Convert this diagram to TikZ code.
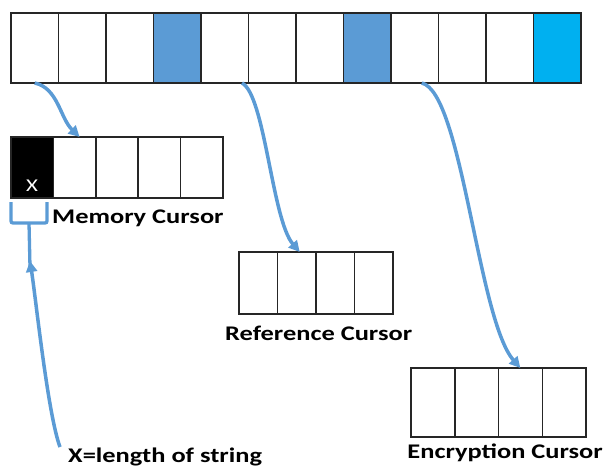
\documentclass[tikz,border=0pt]{standalone}
\usepackage{fontspec}
\usetikzlibrary{arrows.meta,calc}
\newfontfamily\labfont[FakeStretch=1.27]{Carlito}
\definecolor{linkblue}{HTML}{5B9BD5}
\definecolor{markblue}{HTML}{5B9BD5}
\definecolor{endblue}{HTML}{00B0F0}
\definecolor{edge}{HTML}{262626}
\begin{document}
\begin{tikzpicture}[x=1pt,y=-1pt,
  cell/.style={draw=edge,line width=1.5pt,inner sep=0pt,outer sep=0pt,anchor=north west},
  link/.style={draw=linkblue,line width=3.5pt,-{Triangle[length=11pt,width=11pt]}},
  bracket/.style={draw=linkblue,line width=3.3pt,rounded corners=2pt},
  caption/.style={font=\labfont\bfseries\fontsize{20.8}{24}\selectfont,inner sep=0pt,anchor=base west}]
\useasboundingbox (0,0) rectangle (608,466);

% main buffer
\foreach \i/\c in {1/white,2/white,3/white,4/markblue,5/white,6/white,7/white,8/markblue,9/white,10/white,11/white,12/endblue}
  \node[cell,fill=\c,minimum width=47.5pt,minimum height=70pt] (t\i) at ({11+(\i-1)*47.5},13) {};

% memory cursor
\foreach \i/\c in {1/black,2/white,3/white,4/white,5/white}
  \node[cell,fill=\c,minimum width=42.4pt,minimum height=61pt] (m\i) at ({11+(\i-1)*42.4},137) {};
\node[font=\labfont\fontsize{18}{20}\selectfont,text=white,inner sep=0pt] (xmark) at (32,186) {X};

% reference cursor
\foreach \i in {1,...,4}
  \node[cell,fill=white,minimum width=38.5pt,minimum height=62pt] (r\i) at ({239+(\i-1)*38.5},252) {};

% encryption cursor
\foreach \i in {1,...,4}
  \node[cell,fill=white,minimum width=43.75pt,minimum height=69pt] (e\i) at ({411+(\i-1)*43.75},368) {};

% captions
\node[caption] (memcap) at (52,223) {Memory Cursor};
\node[caption] (refcap) at (225,340) {Reference Cursor};
\node[caption,anchor=base east] (enccap) at (603,458) {Encryption Cursor};
\node[caption] (lencap) at (68,462) {X=length of string};

% links from the buffer to the cursors
\draw[link] (t1.south) .. controls (58,88) and (60,118) .. ([xshift=5pt]m2.north);
\draw[link] ([xshift=-6.5pt]t5.south east) .. controls (265,95) and (272,220) .. ([xshift=3pt]r2.north);
\draw[link] ([xshift=7pt]t9.south) .. controls (462,92) and (478,320) .. (e3.north);

% bracket under the length cell
\coordinate (bl) at ($(m1.south west)+(0,4)$);
\coordinate (br) at ($(m1.south west)+(36,4)$);
\coordinate (bm) at ($(m1.south west)+(18,25)$);
\coordinate (bt) at ($(m1.south west)+(19,63)$);
\draw[bracket] (bl) -- (bl |- bm) -- (br |- bm) -- (br);
\draw[bracket] (bm) -- ($(bt)+(0,6)$);

% length note
\coordinate (lenfoot) at ($(lencap.base west)+(-8,-15)$);
\draw[link] (lenfoot) .. controls (48,415) and (36,300) .. (bt);
\end{tikzpicture}
\end{document}
